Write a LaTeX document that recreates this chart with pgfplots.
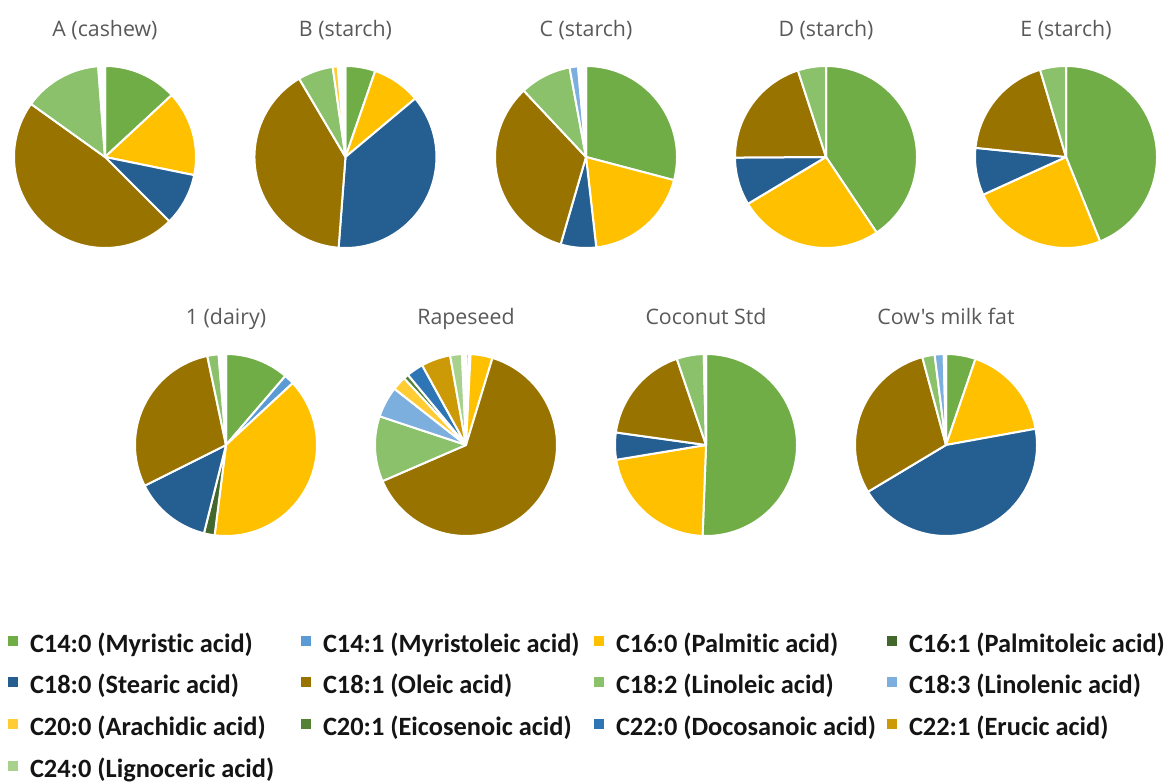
\documentclass[border=0pt]{standalone}
\usepackage{pgfplots}
\usepackage{pgfplotstable}
\pgfplotsset{compat=1.18}
\usepackage{fontspec}
\setmainfont{Carlito}[Ligatures=NoCommon]
\newfontfamily\titlefont{Open Sans}

\definecolor{myr}{HTML}{70AD47}
\definecolor{myrl}{HTML}{5B9BD5}
\definecolor{pal}{HTML}{FFC000}
\definecolor{palo}{HTML}{43682B}
\definecolor{ste}{HTML}{255E91}
\definecolor{ole}{HTML}{997300}
\definecolor{lin}{HTML}{8BC16A}
\definecolor{lnn}{HTML}{7CAFDD}
\definecolor{ara}{HTML}{FFCD33}
\definecolor{eic}{HTML}{548235}
\definecolor{doc}{HTML}{2E75B6}
\definecolor{eru}{HTML}{CC9A06}
\definecolor{lig}{HTML}{A9D18E}
\definecolor{titlegray}{HTML}{595959}
\definecolor{legtext}{HTML}{141414}

% shares in percent, in Excel series order, clockwise from 12 o'clock
\pgfplotstableread{
share color
13.1 myr
15.1 pal
9.3 ste
47.4 ole
13.9 lin
1.2 white
}\tabA
\pgfplotstableread{
share color
5.3 myr
8.6 pal
37.3 ste
40.3 ole
6.25 lin
0.9 ara
1.35 white
}\tabB
\pgfplotstableread{
share color
29.1 myr
19.1 pal
6.3 ste
33.5 ole
9.1 lin
1.5 lnn
1.4 white
}\tabC
\pgfplotstableread{
share color
40.6 myr
25.8 pal
8.5 ste
20.1 ole
5.0 lin
}\tabD
\pgfplotstableread{
share color
43.9 myr
24.3 pal
8.4 ste
18.8 ole
4.6 lin
}\tabE
\pgfplotstableread{
share color
11.3 myr
1.8 myrl
38.9 pal
1.9 palo
13.7 ste
29.1 ole
2.0 lin
1.3 white
}\tabDairy
\pgfplotstableread{
share color
0.5 myr
0.3 white
3.9 pal
63.8 ole
11.6 lin
5.5 lnn
2.5 ara
0.9 eic
3.0 doc
5.2 eru
2.1 lig
0.7 white
}\tabRape
\pgfplotstableread{
share color
50.6 myr
21.8 pal
4.8 ste
17.6 ole
4.8 lin
0.4 white
}\tabCoco
\pgfplotstableread{
share color
5.25 myr
16.9 pal
44.25 ste
29.4 ole
2.2 lin
1.6 lnn
0.4 white
}\tabCow

\newcommand\drawpie[1]{%
  \pgfplotstablegetrowsof{#1}%
  \pgfmathtruncatemacro\pienrows{\pgfplotsretval-1}%
  \gdef\piecum{0}%
  \foreach \r in {0,...,\pienrows}{%
    \pgfplotstablegetelem{\r}{share}\of{#1}\let\pieval\pgfplotsretval
    \pgfplotstablegetelem{\r}{color}\of{#1}\let\piecol\pgfplotsretval
    \pgfmathsetmacro\piesa{90-3.6*\piecum}%
    \pgfmathsetmacro\pieea{90-3.6*(\piecum+\pieval)}%
    \edef\pietemp{\noexpand\addplot[fill=\piecol, draw=white, line width=1.5pt, line join=round, domain=\pieea:\piesa, samples=90, variable=\noexpand\t] ({cos(\noexpand\t)},{sin(\noexpand\t)}) -- (axis cs:0,0) -- cycle;}%
    \pietemp
    \pgfmathsetmacro\pienew{\piecum+\pieval}\global\let\piecum\pienew
  }%
}

\pgfplotsset{
  pie/.style={hide axis, scale only axis, width=136.5pt, height=136.5pt,
    xmin=-1, xmax=1, ymin=-1, ymax=1, anchor=center, clip=false,
    every axis title/.style={at={(0.5,1)}, anchor=base, yshift=21.75pt,
      font=\titlefont\fontsize{16}{19}\selectfont, text=titlegray}},
}

\begin{document}
\begin{tikzpicture}
\path[use as bounding box] (0,0) rectangle (882pt,588pt);

\begin{axis}[pie, at={(78.75pt,470.25pt)}, title={A (cashew)}]
\drawpie{\tabA}
\end{axis}
\begin{axis}[pie, at={(259.1pt,470.25pt)}, title={B (starch)}]
\drawpie{\tabB}
\end{axis}
\begin{axis}[pie, at={(439.5pt,470.25pt)}, title={C (starch)}]
\drawpie{\tabC}
\end{axis}
\begin{axis}[pie, at={(619.5pt,470.25pt)}, title={D (starch)}]
\drawpie{\tabD}
\end{axis}
\begin{axis}[pie, at={(799.5pt,470.25pt)}, title={E (starch)}]
\drawpie{\tabE}
\end{axis}

\begin{axis}[pie, at={(169.5pt,254.25pt)}, title={1 (dairy)}]
\drawpie{\tabDairy}
\end{axis}
\begin{axis}[pie, at={(349.5pt,254.25pt)}, title={Rapeseed}]
\drawpie{\tabRape}
\end{axis}
\begin{axis}[pie, at={(529.5pt,254.25pt)}, title={Coconut Std}]
\drawpie{\tabCoco}
\end{axis}
\begin{axis}[pie, at={(709.5pt,254.25pt)}, title={Cow's milk fat}]
\drawpie{\tabCow}
\end{axis}

% legend
\begin{axis}[hide axis, scale only axis, width=1pt, height=1pt,
  xmin=0, xmax=1, ymin=0, ymax=1,
  at={(6pt,112pt)}, anchor=south west,
  legend columns=4, legend cell align=left,
  legend image code/.code={\fill[#1] (0pt,0.5pt) rectangle (7.5pt,8pt);},
  legend style={draw=none, fill=none, inner sep=0pt, outer sep=0pt,
    at={(0,0)}, anchor=north west, row sep=13.75pt, column sep=0pt,
    nodes={inner sep=0pt, text height=13pt, text depth=4.5pt,
      font=\bfseries\fontsize{19.8}{23}\selectfont, text=legtext},
    /tikz/every odd column/.append style={column sep=9pt}},
]
\addlegendimage{fill=myr, draw=none}\addlegendentry{\makebox[203.25pt][l]{C14:0 (Myristic acid)}}
\addlegendimage{fill=myrl, draw=none}\addlegendentry{\makebox[203.25pt][l]{C14:1 (Myristoleic acid)}}
\addlegendimage{fill=pal, draw=none}\addlegendentry{\makebox[203.25pt][l]{C16:0 (Palmitic acid)}}
\addlegendimage{fill=palo, draw=none}\addlegendentry{\makebox[203.25pt][l]{C16:1 (Palmitoleic acid)}}
\addlegendimage{fill=ste, draw=none}\addlegendentry{C18:0 (Stearic acid)}
\addlegendimage{fill=ole, draw=none}\addlegendentry{C18:1 (Oleic acid)}
\addlegendimage{fill=lin, draw=none}\addlegendentry{C18:2 (Linoleic acid)}
\addlegendimage{fill=lnn, draw=none}\addlegendentry{C18:3 (Linolenic acid)}
\addlegendimage{fill=ara, draw=none}\addlegendentry{C20:0 (Arachidic acid)}
\addlegendimage{fill=eic, draw=none}\addlegendentry{C20:1 (Eicosenoic acid)}
\addlegendimage{fill=doc, draw=none}\addlegendentry{C22:0 (Docosanoic acid)}
\addlegendimage{fill=eru, draw=none}\addlegendentry{C22:1 (Erucic acid)}
\addlegendimage{fill=lig, draw=none}\addlegendentry{C24:0 (Lignoceric acid)}
\end{axis}
\end{tikzpicture}
\end{document}
